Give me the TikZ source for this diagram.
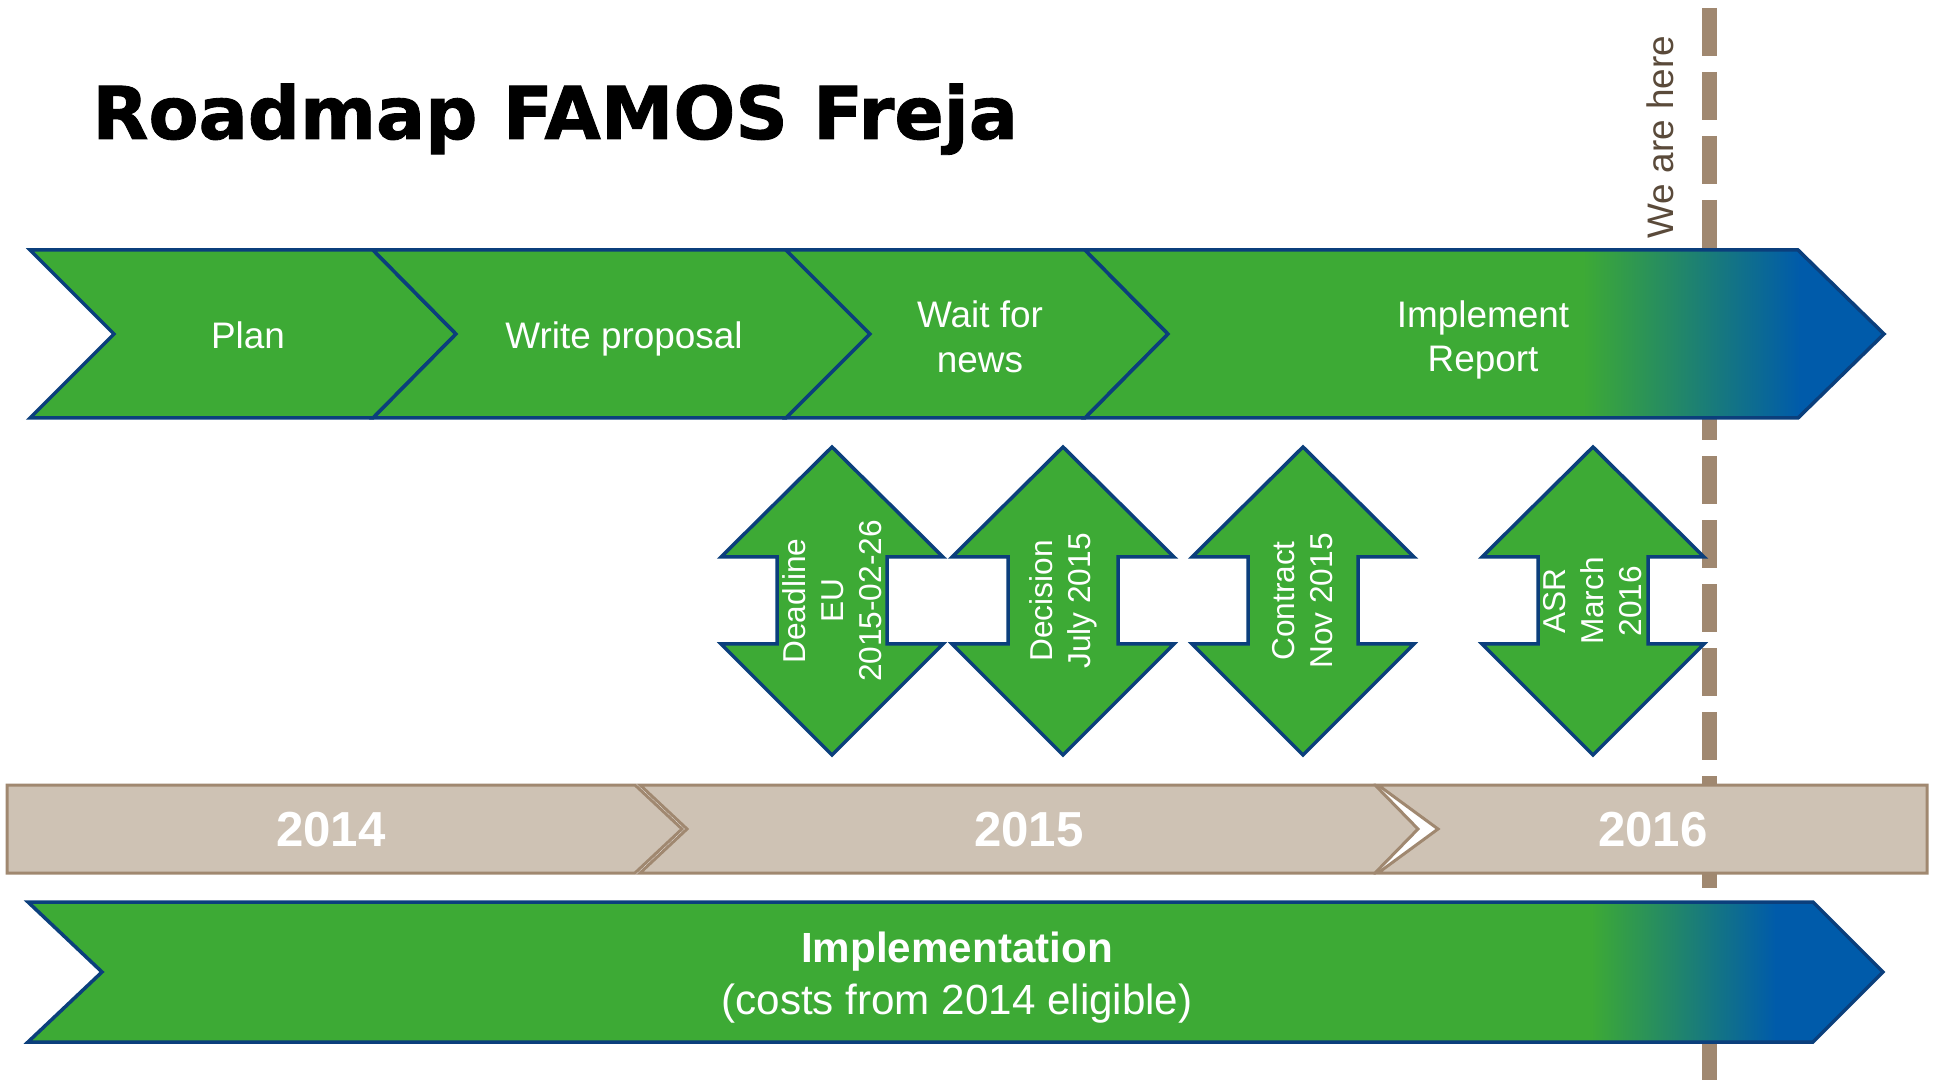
\documentclass[tikz,border=0pt]{standalone}
\usepackage{fontspec}
\setmainfont{Liberation Sans}
\newfontfamily\titlefont{DejaVu Sans}[BoldFeatures={FakeBold=1.2}]
\usepackage{tikz}
\definecolor{famgreen}{HTML}{3DAA35}
\definecolor{famblue}{HTML}{005BAA}
\definecolor{famnavy}{HTML}{0B3F7C}
\definecolor{famsand}{HTML}{CEC2B4}
\definecolor{fambrown}{HTML}{A08870}
\definecolor{famtext}{HTML}{5A4A3A}
\tikzstyle{chev} = [fill=famgreen, draw=famnavy, line width=0.7mm]
\tikzstyle{outline} = [draw=famnavy, line width=0.7mm]
\tikzstyle{chevtext} = [text=white, font=\fontsize{21pt}{25.5pt}\selectfont, align=center, inner sep=0pt]
\tikzstyle{milestone} = [fill=famgreen, draw=famnavy, line width=0.7mm]
\tikzstyle{mstext} = [text=white, font=\fontsize{18pt}{21.6pt}\selectfont, align=center, rotate=90, inner sep=0pt]
\tikzstyle{yearbox} = [fill=famsand, draw=fambrown, line width=0.6mm]
\tikzstyle{yeartext} = [text=white, font=\bfseries\fontsize{28pt}{33pt}\selectfont, inner sep=0pt]

\begin{document}
\begin{tikzpicture}[x=0.2mm, y=-0.2mm]
    \useasboundingbox (0,0) rectangle (1933,1080);
    % we are here
    \draw[fambrown, line width=3mm, dash pattern=on 9.6mm off 3.2mm] (1709,8) -- (1709,1080);
    \node[text=famtext, font=\fontsize{21pt}{25.5pt}\selectfont, rotate=90, inner sep=0pt] (here) at (1660,137) {We are here};
    \node[anchor=base west, inner sep=0pt, font=\titlefont\bfseries\fontsize{41.5pt}{48pt}\selectfont] (title) at (92,139) {Roadmap FAMOS Freja};

    % top row
    \draw[chev] (30,250) -- (373,250) -- (456,334) -- (373,418) -- (30,418) -- (114,334) -- cycle;
    \draw[chev] (373,250) -- (786,250) -- (870,334) -- (786,418) -- (373,418) -- (456,334) -- cycle;
    \draw[chev] (786,250) -- (1085,250) -- (1168,334) -- (1085,418) -- (786,418) -- (870,334) -- cycle;
    \begin{scope}
        \clip (1085,250) -- (1798,250) -- (1884,334) -- (1798,418) -- (1085,418) -- (1168,334) -- cycle;
        \fill[famgreen] (1080,245) rectangle (1584,425);
        \shade[left color=famgreen, right color=famblue] (1583,245) rectangle (1800,425);
        \fill[famblue] (1799,245) rectangle (1890,425);
    \end{scope}
    \draw[outline] (1085,250) -- (1798,250) -- (1884,334) -- (1798,418) -- (1085,418) -- (1168,334) -- cycle;
    \node[chevtext, anchor=base] (plan) at (248,349) {Plan};
    \node[chevtext, anchor=base] (write) at (624,349) {Write proposal};
    \node[chevtext] (wait) at (980,337) {Wait for\\news};
    \node[chevtext] (impl) at (1483,340) {Implement\\Report};

    % milestones
    \foreach \cx/\nm/\txt in {832/deadline/{Deadline\\EU\\2015-02-26}, 1063/decision/{Decision\\July 2015}, 1303/contract/{Contract\\Nov 2015}, 1593/asr/{ASR\\March\\2016}} {
        \draw[milestone] (\cx,447) -- ++(111,110) -- ++(-56,0) -- ++(0,87) -- ++(56,0) -- (\cx,755)
            -- ++(-111,-111) -- ++(56,0) -- ++(0,-87) -- ++(-56,0) -- cycle;
        \node[mstext] (\nm) at (\cx,601) {\txt};
    }

    % years
    \draw[yearbox] (7,785) -- (635,785) -- (682,829) -- (635,873) -- (7,873) -- cycle;
    \draw[yearbox] (640,785) -- (1375,785) -- (1418,829) -- (1375,873) -- (640,873) -- (687,829) -- cycle;
    \draw[yearbox] (1378,785) -- (1927,785) -- (1927,873) -- (1378,873) -- (1438,829) -- cycle;
    \node[yeartext] (y2014) at (331,830) {2014};
    \node[yeartext] (y2015) at (1029,830) {2015};
    \node[yeartext] (y2016) at (1653,830) {2016};

    % implementation
    \begin{scope}
        \clip (28,902) -- (1813,902) -- (1883,972) -- (1813,1042) -- (28,1042) -- (102,972) -- cycle;
        \fill[famgreen] (20,895) rectangle (1592,1050);
        \shade[left color=famgreen, right color=famblue] (1591,895) rectangle (1776,1050);
        \fill[famblue] (1775,895) rectangle (1890,1050);
    \end{scope}
    \draw[outline] (28,902) -- (1813,902) -- (1883,972) -- (1813,1042) -- (28,1042) -- (102,972) -- cycle;
    \node[text=white, align=center, inner sep=0pt, font=\fontsize{24pt}{29.5pt}\selectfont] (implementation) at (957,978) {\textbf{Implementation}\\(costs from 2014 eligible)};
\end{tikzpicture}
\end{document}
